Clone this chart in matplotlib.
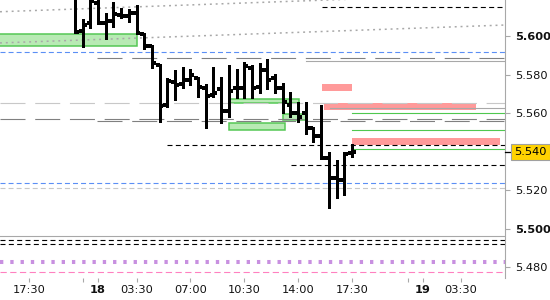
import matplotlib
matplotlib.use("Agg")
import matplotlib.pyplot as plt
from matplotlib.transforms import blended_transform_factory
import numpy as np

# 30-minute OHLC bars (x = bar index, session gaps collapsed)
opens = [5.6208, 5.6026, 5.6068, 5.6171, 5.6068, 5.6078, 5.6109, 5.6104, 5.6119,
         5.6010, 5.5948, 5.5849, 5.5642, 5.5761, 5.5751, 5.5771, 5.5782, 5.5730,
         5.5694, 5.5725, 5.5610, 5.5730, 5.5730, 5.5834, 5.5735, 5.5823, 5.5782,
         5.5730, 5.5642, 5.5600, 5.5600, 5.5522, 5.5481, 5.5366, 5.5262, 5.5252,
         5.5392]
highs = [5.6218, 5.6088, 5.6218, 5.6218, 5.6119, 5.6177, 5.6145, 5.6140, 5.6161,
         5.6016, 5.5953, 5.5855, 5.5782, 5.5823, 5.5839, 5.5829, 5.5787, 5.5751,
         5.5839, 5.5787, 5.5849, 5.5829, 5.5865, 5.5849, 5.5860, 5.5881, 5.5803,
         5.5756, 5.5709, 5.5657, 5.5657, 5.5527, 5.5642, 5.5397, 5.5356, 5.5397,
         5.5439]
lows = [5.6013, 5.5943, 5.6042, 5.6062, 5.5984, 5.6047, 5.6094, 5.6073, 5.6010,
        5.5932, 5.5834, 5.5553, 5.5631, 5.5668, 5.5730, 5.5745, 5.5683, 5.5522,
        5.5683, 5.5548, 5.5579, 5.5678, 5.5678, 5.5678, 5.5704, 5.5725, 5.5704,
        5.5600, 5.5579, 5.5553, 5.5491, 5.5449, 5.5361, 5.5106, 5.5158, 5.5174,
        5.5371]
closes = [5.6023, 5.6057, 5.6182, 5.6065, 5.6078, 5.6114, 5.6104, 5.6119, 5.6016,
          5.5948, 5.5860, 5.5636, 5.5766, 5.5745, 5.5771, 5.5797, 5.5735, 5.5688,
          5.5704, 5.5610, 5.5714, 5.5730, 5.5844, 5.5730, 5.5823, 5.5771, 5.5730,
          5.5657, 5.5600, 5.5579, 5.5522, 5.5481, 5.5366, 5.5262, 5.5252, 5.5387,
          5.5397]
last_price = 5.5397

tick_pos = [-6, 3, 8, 15, 22, 29, 36, 45.2, 50.2]
tick_labels = ["17:30", "18", "03:30", "07:00", "10:30", "14:00", "17:30", "19", "03:30"]
minor_pos = [1, 43.3]
price_ticks = [5.48, 5.50, 5.52, 5.54, 5.56, 5.58, 5.60]
bold_prices = [5.50, 5.60]

# horizontal levels: (price, first bar index or None = whole width)
black_dashed = [(5.6149, 32.1), (5.5433, 12.0), (5.5330, 28.1), (5.4940, None), (5.4919, None)]
blue_dashed = [(5.5915, None), (5.5235, None)]
light_gray_short = [(5.5209, None)]
light_gray_long = [(5.5650, None)]
dark_gray_long = [(5.5884, 2.9), (5.5571, None), (5.5560, 2.9)]
gray_solid = [(5.5872, 30.0), (5.5628, 33.2), (5.4963, None)]
green_lines = [(5.5600, 36), (5.5512, 36), (5.5411, 36)]
purple_dotted = 5.4827
pink_dashed = 5.4773

# channel lines: (bar0, price0, bar1, price1)
channel = [(-9.75, 5.6126, 55.9, 5.6220), (-9.75, 5.5964, 55.9, 5.6057)]

# zones: (bar0, bar1, low, high)
green_zones = [(-11, 8.1, 5.5950, 5.6009), (20.0, 29.1, 5.5650, 5.5671),
               (27.0, 30.2, 5.5562, 5.5593), (20.0, 27.3, 5.5510, 5.5546)]
red_zones = [(32.1, 36.0, 5.5714, 5.5751), (32.4, 52.1, 5.5616, 5.5650),
             (36.0, 55.3, 5.5432, 5.5472)]

XMIN, XMAX = -9.75, 55.9
YMIN, YMAX = 5.4743, 5.6187

plt.rcParams["lines.scale_dashes"] = False
plt.rcParams["font.family"] = "DejaVu Sans"

fig = plt.figure(figsize=(5.5, 3), dpi=100)
ax = fig.add_axes([0, 22 / 300, 505 / 550, 278 / 300])
ax.set_xlim(XMIN, XMAX)
ax.set_ylim(YMIN, YMAX)


def levels(items, **kw):
    for price, start in items:
        x0 = XMIN if start is None else start
        ax.plot([x0, XMAX], [price, price], **kw)


# zones
for x0, x1, lo, hi in green_zones:
    ax.add_patch(plt.Rectangle((x0, lo), x1 - x0, hi - lo, facecolor="#b8eab4",
                               edgecolor="#55c855", lw=1.1, zorder=1))
for x0, x1, lo, hi in red_zones:
    ax.add_patch(plt.Rectangle((x0, lo), x1 - x0, hi - lo, facecolor="#ff9a9a",
                               edgecolor="none", zorder=1))

# levels
levels(black_dashed, color="black", lw=0.8, dashes=(3.6, 2.4), zorder=2)
levels(blue_dashed, color="#5b8ff5", lw=0.8, dashes=(3.6, 2.2), zorder=2)
levels(light_gray_short, color="#c8c8c8", lw=0.8, dashes=(3.6, 2.2), zorder=2)
levels(light_gray_long, color="#c8c8c8", lw=0.8, dashes=(18, 7), zorder=2)
levels(dark_gray_long, color="#808080", lw=0.8, dashes=(18, 7), zorder=2)
levels(gray_solid, color="#a8a8a8", lw=0.8, zorder=2)
levels(green_lines, color="#4fc84f", lw=0.8, zorder=2)
ax.axhline(purple_dotted, color="#c890e0", lw=2.9, dashes=(2.4, 5.0),
           dash_capstyle="butt", zorder=2)
ax.axhline(pink_dashed, color="#ff80c0", lw=0.8, dashes=(4.5, 2.5), zorder=2)
for x0, p0, x1, p1 in channel:
    ax.plot([x0, x1], [p0, p1], color="#a8a8a8", lw=1.1, dashes=(1.4, 2.8),
            dash_capstyle="butt", zorder=2)

# OHLC bars, drawn crisp like the source terminal
x = np.arange(len(opens))
ax.vlines(x, lows, highs, color="black", lw=1.8, zorder=3, antialiased=False)
ax.hlines(opens, x - 0.5, x, color="black", lw=1.7, zorder=3, antialiased=False)
ax.hlines(closes, x, x + 0.5, color="black", lw=1.7, zorder=3, antialiased=False)

# axes styling
for side in ["top", "left", "bottom"]:
    ax.spines[side].set_visible(False)
ax.spines["right"].set_color("#a8a8a8")
ax.spines["right"].set_linewidth(0.8)

ax.yaxis.tick_right()
ax.set_yticks(price_ticks)
ax.set_yticklabels([f"{p:.3f}" for p in price_ticks])
for lbl, p in zip(ax.get_yticklabels(), price_ticks):
    if any(abs(p - b) < 1e-9 for b in bold_prices):
        lbl.set_fontweight("bold")
ax.tick_params(axis="y", length=3.6, pad=3.4, color="#a8a8a8", width=0.8,
               labelsize=8.2, labelcolor="#111111")

ax.set_xticks(tick_pos)
ax.set_xticklabels(tick_labels)
for lbl in ax.get_xticklabels():
    if lbl.get_text() in ("18", "19"):
        lbl.set_fontweight("bold")
ax.set_xticks(minor_pos, minor=True)
ax.tick_params(axis="x", which="both", length=2.9, pad=2.0, color="#a8a8a8",
               width=0.8, labelsize=8.2, labelcolor="#111111")

# half-visible top label
trans = blended_transform_factory(ax.transAxes, ax.transData)
ax.text(515 / 505, 5.620, "5.620", transform=trans, ha="left", va="center",
        fontsize=8.2, color="#111111", clip_on=False)

# last price marker
ax.plot([1.0, 1.0 + 5 / 505], [last_price, last_price], transform=trans,
        color="black", lw=0.9, clip_on=False, zorder=9)
ax.text(514 / 505, last_price, f"{last_price:.3f}", transform=trans, ha="left",
        va="center", fontsize=8.2, color="black", clip_on=False, zorder=10,
        bbox=dict(boxstyle="square,pad=0.28", facecolor="#ffd200",
                  edgecolor="#a0a0a0", lw=0.8))

fig.savefig("out.png", dpi=100, facecolor="white")
